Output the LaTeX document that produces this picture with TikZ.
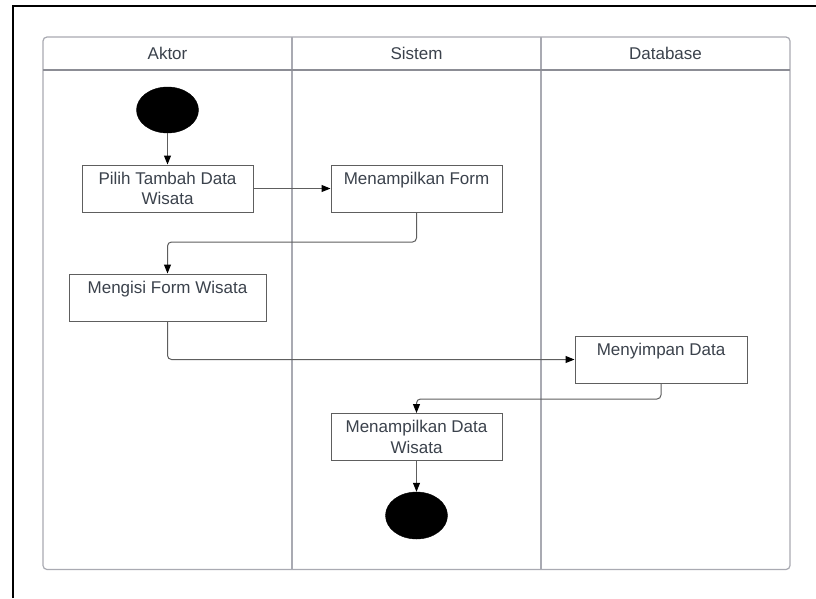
\documentclass[tikz,border=0pt]{standalone}
\usepackage{fontspec}
\setmainfont{Liberation Sans}
\usetikzlibrary{arrows.meta,shapes.geometric}

\definecolor{lanegrey}{HTML}{A9AAB2}
\definecolor{headgrey}{HTML}{8C8D95}
\definecolor{boxgrey}{HTML}{5E5E5E}
\definecolor{txtgrey}{HTML}{3B424C}

\begin{document}
\begin{tikzpicture}[x=1pt,y=-1pt,
  lbl/.style={font=\fontsize{17}{20.5}\selectfont, text=txtgrey},
  act/.style={draw=boxgrey, line width=1pt, fill=white, minimum height=47pt,
    inner sep=0pt, align=center, lbl},
  dot/.style={ellipse, fill=black, draw=black, minimum width=62pt,
    minimum height=46pt, inner sep=0pt},
  flow/.style={draw=boxgrey, line width=1pt, rounded corners=4pt,
    -{Triangle[length=9pt,width=7pt,color=black]}},
  lane/.style={draw=lanegrey, line width=1.2pt}
]
% canvas
\fill[white] (0,0) rectangle (816,598);
\useasboundingbox (0,0) rectangle (816,598);
\draw[black, line width=2pt] (12.5,598) -- (12.5,5.5) -- (816,5.5);

% swimlanes
\draw[lane, rounded corners=4pt] (43,37) rectangle (790,569.5);
\draw[lane] (292,37) -- (292,569.5);
\draw[lane] (541,37) -- (541,569.5);
\draw[headgrey, line width=1.5pt] (43,70) -- (790,70);

\node[lbl] (hA) at (167.5,53.5) {Aktor};
\node[lbl] (hS) at (416.5,53.5) {Sistem};
\node[lbl] (hD) at (665.5,53.5) {Database};

% activities
\node[dot] (start) at (167.5,110) {};
\node[act, minimum width=171pt] (a1) at (167.5,188.5) {Pilih Tambah Data\\Wisata};
\node[act, minimum width=171pt] (a2) at (416.5,188.5) {Menampilkan Form\\\mbox{}};
\node[act, minimum width=197pt] (a3) at (167.5,297.5) {Mengisi Form Wisata\\\mbox{}};
\node[act, minimum width=172pt] (a4) at (661,359.5) {Menyimpan Data\\\mbox{}};
\node[act, minimum width=171pt] (a5) at (416.5,437) {Menampilkan Data\\Wisata};
\node[dot, minimum height=47pt] (end) at (416.5,515.5) {};

% bends
\coordinate (k1) at (416.5,242);
\coordinate (k2) at (661,399);

% flows
\draw[flow] (start) -- (a1);
\draw[flow] (a1) -- (a2);
\draw[flow] (a2.south) -- (k1) -| (a3.north);
\draw[flow] (a3.south) |- (a4.west);
\draw[flow] (a4.south) -- (k2) -| (a5.north);
\draw[flow] (a5) -- (end);
\end{tikzpicture}
\end{document}
